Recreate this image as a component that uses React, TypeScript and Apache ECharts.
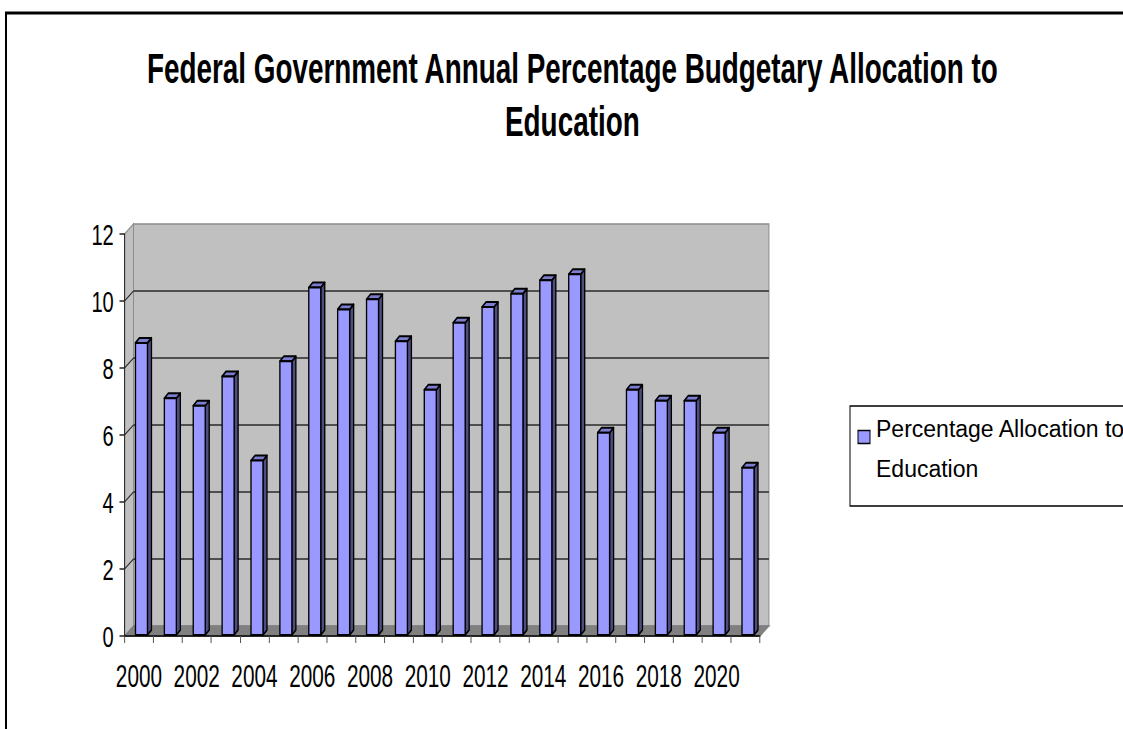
import React, { useEffect, useRef } from 'react';
import * as echarts from 'echarts';

// ---- data ----
const years = ['2000', '2001', '2002', '2003', '2004', '2005', '2006', '2007', '2008', '2009', '2010',
  '2011', '2012', '2013', '2014', '2015', '2016', '2017', '2018', '2019', '2020', '2021'];
const allocation = [8.75, 7.1, 6.87, 7.75, 5.24, 8.2, 10.4, 9.75, 10.05, 8.8, 7.35,
  9.35, 9.82, 10.22, 10.62, 10.8, 6.07, 7.35, 7.02, 7.02, 6.07, 5.02];
const gridValues = [2, 4, 6, 8, 10];
const yMin = 0;
const yMax = 12;
const yStep = 2;
const titleText = 'Federal Government Annual Percentage Budgetary Allocation to\nEducation';
const seriesName = 'Percentage Allocation to Education';
const legendText = 'Percentage Allocation to\nEducation';

// ---- layout (the picture is horizontally compressed) ----
const S = 0.67;
const VW = 1123;
const VH = 729;
const W = VW / S;
const FONT = '"Liberation Sans", Arial, sans-serif';
const DX = 9 / S; // depth offset of the walls
const DY = 10;
const BDX = 4 / S; // depth of each bar
const BDY = 5;

export default function App() {
  const ref = useRef<HTMLDivElement>(null);

  useEffect(() => {
    if (!ref.current) return;
    const chart = echarts.init(ref.current, null, { renderer: 'svg' });

    const wallsItem = (params: any, api: any) => {
      const cs = params.coordSys;
      const x0 = cs.x, y0 = cs.y, w = cs.width, h = cs.height;
      const children: any[] = [];
      children.push({
        type: 'rect',
        shape: { x: x0 + DX, y: y0 - DY, width: w, height: h },
        style: { fill: '#c0c0c0', stroke: '#8c8c8c', lineWidth: 1.5 },
      });
      children.push({
        type: 'polygon',
        shape: { points: [[x0, y0], [x0 + DX, y0 - DY], [x0 + DX, y0 + h - DY], [x0, y0 + h]] },
        style: { fill: '#c0c0c0', stroke: '#8c8c8c', lineWidth: 1.5 },
      });
      children.push({
        type: 'polygon',
        shape: { points: [[x0, y0 + h], [x0 + DX, y0 + h - DY], [x0 + w + DX, y0 + h - DY], [x0 + w, y0 + h]] },
        style: { fill: '#808080', stroke: '#808080', lineWidth: 1.5 },
      });
      gridValues.forEach((v) => {
        const y = api.coord([0, v])[1];
        children.push({
          type: 'line',
          shape: { x1: x0 + DX, y1: y - DY, x2: x0 + w + DX, y2: y - DY },
          style: { stroke: '#2a2a2a', lineWidth: 1.5 },
        });
        children.push({
          type: 'line',
          shape: { x1: x0, y1: y, x2: x0 + DX, y2: y - DY },
          style: { stroke: '#2a2a2a', lineWidth: 1.5 },
        });
      });
      return { type: 'group', children };
    };

    const barItem = (params: any, api: any) => {
      const idx = api.value(0);
      const val = api.value(1);
      const top = api.coord([idx, val]);
      const base = api.coord([idx, 0]);
      const band = api.size([1, 0])[0];
      const cx = top[0];
      const yt = top[1];
      const yb = base[1] - 1;
      const fl = cx - 0.12 * band;
      const fw = 0.415 * band;
      const outline = { stroke: '#000', lineWidth: 2, lineJoin: 'round' };
      return {
        type: 'group',
        children: [
          {
            type: 'polygon',
            shape: { points: [[fl + fw, yt], [fl + fw + BDX, yt - BDY], [fl + fw + BDX, yb - BDY], [fl + fw, yb]] },
            style: { fill: '#4d4d80', ...outline },
          },
          {
            type: 'polygon',
            shape: { points: [[fl, yt], [fl + BDX, yt - BDY], [fl + fw + BDX, yt - BDY], [fl + fw, yt]] },
            style: { fill: '#7d7dd0', ...outline },
          },
          {
            type: 'rect',
            shape: { x: fl, y: yt, width: fw, height: yb - yt },
            style: { fill: '#9999ff', ...outline },
          },
        ],
      };
    };

    chart.setOption({
      animation: false,
      backgroundColor: '#ffffff',
      title: {
        text: titleText,
        left: 569 / S,
        top: 37,
        textAlign: 'center',
        textStyle: { fontFamily: FONT, fontSize: 41.6, fontWeight: 'bold', color: '#000', lineHeight: 53 },
      },
      grid: { left: 124.5 / S, right: W - 760 / S, top: 234, bottom: VH - 636 },
      xAxis: {
        type: 'category',
        data: years,
        boundaryGap: true,
        z: 10,
        axisLine: { show: true, lineStyle: { color: '#000', width: 1.5 } },
        axisTick: { show: true, interval: 0, length: 7, lineStyle: { color: '#555', width: 1.5 } },
        axisLabel: { interval: 1, fontFamily: FONT, fontSize: 31, color: '#000', margin: 25 },
        splitLine: { show: false },
      },
      yAxis: {
        type: 'value',
        min: yMin,
        max: yMax,
        interval: yStep,
        z: 10,
        axisLine: { show: true, lineStyle: { color: '#222', width: 1.5 } },
        axisTick: { show: true, length: 5 / S, lineStyle: { color: '#222', width: 1.5 } },
        axisLabel: { fontFamily: FONT, fontSize: 30, color: '#000', margin: 16 },
        splitLine: { show: false },
      },
      graphic: [
        {
          type: 'rect',
          shape: { x: 6 / S, y: 13, width: W, height: VH },
          style: { fill: 'none', stroke: '#000', lineWidth: 3 },
          z: 100,
        },
        {
          type: 'rect',
          shape: { x: 850 / S, y: 406, width: W, height: 100 },
          style: { fill: '#fff', stroke: '#000', lineWidth: 1.5 },
          z: 100,
        },
        {
          type: 'rect',
          shape: { x: 858 / S, y: 430.5, width: 12 / S, height: 13 },
          style: { fill: '#9999ff', stroke: '#000', lineWidth: 1.5 },
          z: 101,
        },
        {
          type: 'text',
          x: 876 / S,
          y: 409,
          scaleX: 1 / S,
          style: { text: legendText, font: `23px ${FONT}`, fill: '#000', lineHeight: 40, verticalAlign: 'top' },
          z: 101,
        },
      ],
      series: [
        {
          type: 'custom',
          name: 'walls',
          data: [[0, 0]],
          renderItem: wallsItem,
          z: 1,
          silent: true,
        },
        {
          type: 'custom',
          name: seriesName,
          data: allocation.map((v, i) => [i, v]),
          encode: { x: 0, y: 1 },
          renderItem: barItem,
          z: 2,
        },
      ],
    });

    return () => chart.dispose();
  }, []);

  return (
    <div style={{ position: 'fixed', left: 0, top: 0, width: VW, height: VH, overflow: 'hidden', background: '#fff' }}>
      <div
        ref={ref}
        style={{ position: 'absolute', left: 0, top: 0, width: W, height: VH, transform: `scaleX(${S})`, transformOrigin: '0 0' }}
      />
    </div>
  );
}
